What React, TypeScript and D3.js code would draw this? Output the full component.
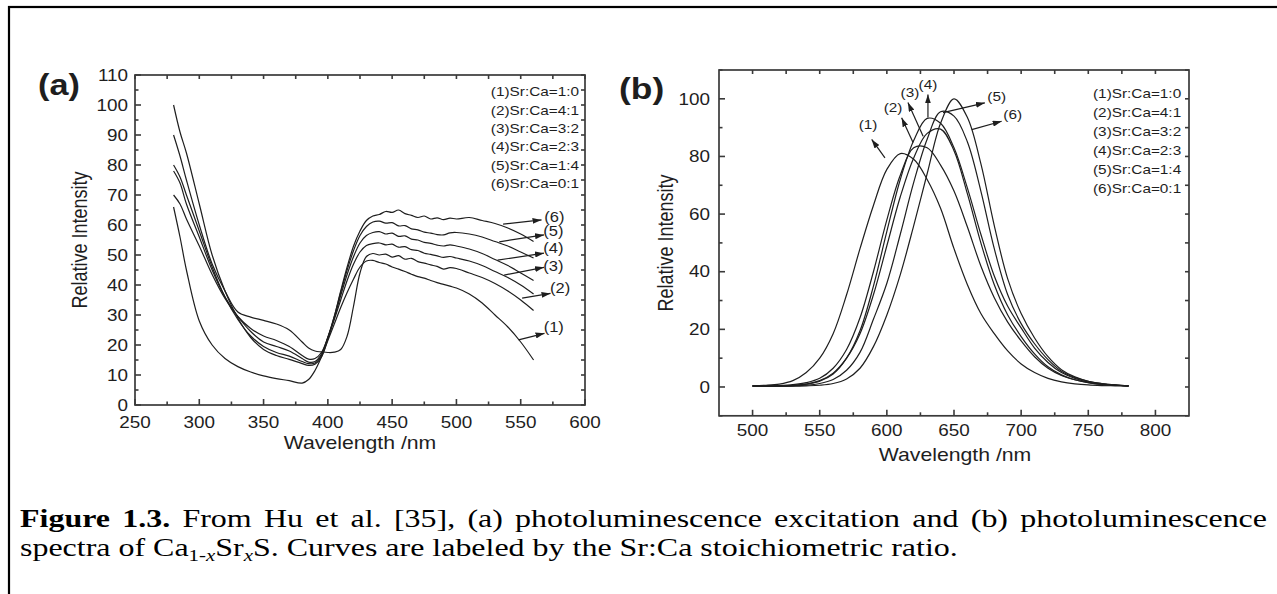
import React, { useLayoutEffect, useRef } from "react";
import * as d3 from "d3";

// ---------- Panel (a): photoluminescence excitation ----------
const waveA = [280, 285, 290, 300, 310, 320, 330, 340, 350, 360, 370, 380, 385, 390, 395, 400, 405, 410, 415, 420, 425, 430, 435, 440, 445, 450, 455, 460, 465, 470, 475, 480, 485, 490, 495, 500, 510, 520, 530, 540, 550, 560];
const excit1 = [66, 56, 45, 28, 20, 15.5, 12.8, 11, 9.7, 8.8, 8.1, 7.3, 8.5, 11.5, 16, 21.5, 27, 32.5, 37.5, 42, 46, 48, 48.2, 47.5, 47, 46, 45.3, 44.5, 43.6, 42.8, 42.3, 41.5, 40.8, 40.2, 39.6, 39, 37, 34, 30, 26, 21, 15];
const excit2 = [90, 83, 75, 60, 47, 38, 31, 29.3, 28.2, 27, 25, 21, 19, 18, 17.7, 17.5, 17.6, 18.5, 23, 33, 44, 49.5, 50.5, 50, 50.3, 49.3, 49.8, 48.6, 48.9, 47.8, 47.3, 46.7, 46.2, 45.3, 45.8, 45.5, 44, 42.5, 40.5, 38, 35, 31.5];
const excit3 = [70, 67, 62, 53, 43.5, 35.5, 29.5, 25.5, 23, 21.5, 19.5, 16.5, 15.3, 15.5, 17.5, 22.5, 28.5, 35, 41.5, 47, 51, 53.2, 53.8, 54, 53.4, 53.6, 52.6, 52.8, 51.8, 51.5, 50.6, 50.2, 49.7, 49.2, 49.5, 49, 48, 46.5, 44.5, 42.5, 40, 37];
const excit4 = [78, 74, 67, 56, 45, 36, 29.5, 24.5, 21, 19.5, 18, 15.5, 14.3, 14.5, 17, 22.5, 29, 36.5, 43.5, 49.5, 54, 56.5, 57.5, 57.8, 57, 57.3, 56.2, 56.4, 55.3, 55, 54.2, 53.9, 53.3, 53, 53.4, 53, 52, 50.5, 48.5, 46.5, 44, 41.5];
const excit5 = [80, 76, 70, 58, 46, 36, 28.5, 23, 19.5, 17.5, 16.3, 14.5, 13.8, 14, 16.5, 22.5, 29.5, 37.5, 45, 51.5, 56.5, 59.5, 61, 61.3, 60.6, 60.8, 59.7, 59.8, 58.7, 58.4, 57.6, 57.3, 56.8, 56.7, 57.4, 57.5, 57, 56, 54.5, 53, 51, 49];
const excit6 = [100, 91, 84, 67, 50, 38, 29, 22.5, 18.5, 16.5, 15.2, 13.8, 13.2, 13.6, 16, 22, 29.5, 38, 46, 53, 58, 61.5, 63, 63.5, 64.5, 64.2, 65, 63.8, 63.2, 62.5, 63, 62, 62.4, 61.8, 62.3, 62, 62.5, 61.5, 60.5, 59, 57, 54.5];
const excitSeries = [excit1, excit2, excit3, excit4, excit5, excit6];

// arrow annotations for (a): [wavelength, intensity]
const annotA = [
  { label: "(6)", tail: [536.3, 60.3], head: [566.2, 61.7], text: [576.2, 62.8] },
  { label: "(5)", tail: [533.3, 54.4], head: [568.1, 56.7], text: [575.4, 58.0] },
  { label: "(4)", tail: [532.0, 48.3], head: [568.1, 50.6], text: [575.4, 52.2] },
  { label: "(3)", tail: [537.1, 43.3], head: [568.1, 45.9], text: [575.4, 46.4] },
  { label: "(2)", tail: [551.1, 35.6], head: [573.2, 37.2], text: [580.6, 38.9] },
  { label: "(1)", tail: [548.3, 21.7], head: [568.5, 23.9], text: [575.7, 26.1] },
];

// ---------- Panel (b): photoluminescence ----------
const waveB = [500, 510, 520, 530, 540, 550, 560, 570, 580, 590, 600, 610, 620, 630, 640, 650, 660, 670, 680, 690, 700, 710, 720, 730, 740, 750, 760, 770, 780];
const emit1 = [0.5, 0.6, 1.0, 2.2, 5, 10, 18.5, 32, 48, 63, 75.5, 81, 79, 72, 62, 48, 35.5, 25.5, 18.5, 12.5, 8, 5, 3, 1.8, 1.1, 0.7, 0.5, 0.4, 0.3];
const emit2 = [0.4, 0.4, 0.5, 0.8, 1.5, 3, 6.5, 13, 24, 40, 58, 73.5, 83, 83, 77, 68, 55.5, 42, 31, 22.5, 16, 10.5, 6.5, 4, 2.5, 1.5, 0.9, 0.6, 0.4];
const emit3 = [0.3, 0.3, 0.4, 0.6, 1, 2.2, 4.8, 10, 18.5, 32, 49, 66, 79.5, 88, 89.5, 82, 67, 50, 35.5, 25, 17.5, 11.5, 7, 4.2, 2.5, 1.5, 0.9, 0.6, 0.4];
const emit4 = [0.3, 0.3, 0.4, 0.5, 1, 2, 4.5, 10, 19.5, 35, 54, 72, 85.5, 93.2, 91.5, 83, 69, 53, 38.5, 28, 20.5, 13.5, 8.5, 5, 3, 1.7, 1, 0.6, 0.4];
const emit5 = [0.3, 0.3, 0.3, 0.4, 0.6, 1.2, 2.6, 5.8, 12, 23.5, 36, 53, 71, 86, 95.5, 94, 85, 68, 48, 32, 22, 15, 9.5, 5.5, 3.3, 2, 1.2, 0.7, 0.4];
const emit6 = [0.3, 0.3, 0.3, 0.3, 0.4, 0.6, 1.2, 2.8, 6.5, 14, 25, 39, 56, 74, 91.5, 100, 93.5, 77.5, 56, 37.5, 25.5, 17, 10.5, 6, 3.5, 2, 1.2, 0.7, 0.4];
const emitSeries = [emit1, emit2, emit3, emit4, emit5, emit6];

const annotB = [
  { label: "(1)", tail: [598.6, 79.5], head: [588.7, 85.9], text: [586.0, 91.1] },
  { label: "(2)", tail: [619.5, 84.8], head: [611.0, 93.4], text: [604.6, 97.0] },
  { label: "(3)", tail: [627.0, 87.0], head: [615.7, 98.7], text: [617.2, 102.2] },
  { label: "(4)", tail: [630.6, 93.5], head: [630.6, 101.5], text: [630.6, 105.0] },
  { label: "(5)", tail: [641.8, 95.2], head: [673.0, 98.6], text: [681.8, 100.9] },
  { label: "(6)", tail: [663.2, 89.3], head: [685.5, 92.2], text: [693.7, 94.5] },
];

const legendLabels = ["(1)Sr:Ca=1:0", "(2)Sr:Ca=4:1", "(3)Sr:Ca=3:2", "(4)Sr:Ca=2:3", "(5)Sr:Ca=1:4", "(6)Sr:Ca=0:1"];

// ticks
const xMajorA = [250, 300, 350, 400, 450, 500, 550, 600];
const xMinorA = [275, 325, 375, 425, 475, 525, 575];
const yMajorA = [0, 10, 20, 30, 40, 50, 60, 70, 80, 90, 100, 110];
const yMinorA = [5, 15, 25, 35, 45, 55, 65, 75, 85, 95, 105];
const xMajorB = [500, 550, 600, 650, 700, 750, 800];
const xMinorB = [525, 575, 625, 675, 725, 775];
const yMajorB = [0, 20, 40, 60, 80, 100];
const yMinorB = [-10, 10, 30, 50, 70, 90, 110];

const FONT = "'Liberation Sans', Arial, Helvetica, sans-serif";
const SERIF = "'Liberation Serif', 'Times New Roman', serif";
const SX = 1.18;
const CAP_SX = 1.23;
const INK = "#1e1e1e";
const AXIS = "#3a3a3a";

function STxt(props: any) {
  const { x, y, size, anchor = "start", weight = "normal", rotate = false, children, dy } = props;
  const t = `translate(${x},${y}) scale(${SX},1)` + (rotate ? " rotate(-90)" : "");
  return (
    <text transform={t} fontSize={size} textAnchor={anchor} fontWeight={weight} fontFamily={FONT} fill={INK} dy={dy}>
      {children}
    </text>
  );
}

function Axes(props: any) {
  const { x, y, xMajor, xMinor, yMajor, yMinor, xLabelY, yLabelX } = props;
  const [x0, x1] = x.range();
  const [y0, y1] = y.range();
  const M = 6, m = 3.5, T = 4;
  const segs: any[] = [];
  xMajor.forEach((v: number) => {
    segs.push([x(v), y0, x(v), y0 - M]);
    segs.push([x(v), y1, x(v), y1 + T]);
  });
  xMinor.forEach((v: number) => {
    segs.push([x(v), y0, x(v), y0 - m]);
    segs.push([x(v), y1, x(v), y1 + T]);
  });
  yMajor.forEach((v: number) => {
    segs.push([x0, y(v), x0 + M, y(v)]);
    segs.push([x1, y(v), x1 - T, y(v)]);
  });
  yMinor.forEach((v: number) => {
    segs.push([x0, y(v), x0 + m, y(v)]);
    segs.push([x1, y(v), x1 - T, y(v)]);
  });
  return (
    <g>
      <rect x={x0} y={y1} width={x1 - x0} height={y0 - y1} fill="none" stroke={AXIS} strokeWidth={1.7} />
      {segs.map((s, i) => (
        <line key={i} x1={s[0]} y1={s[1]} x2={s[2]} y2={s[3]} stroke={AXIS} strokeWidth={1.6} />
      ))}
      {xMajor.map((v: number) => (
        <STxt key={"xl" + v} x={x(v)} y={xLabelY} size={16} anchor="middle">{v}</STxt>
      ))}
      {yMajor.map((v: number) => (
        <STxt key={"yl" + v} x={yLabelX} y={y(v)} size={16} anchor="end" dy="0.36em">{v}</STxt>
      ))}
    </g>
  );
}

export default function App() {
  const capRef = useRef<SVGTextElement>(null);
  useLayoutEffect(() => {
    const el = capRef.current;
    if (!el) return;
    el.setAttribute("word-spacing", "0");
    const natural = el.getComputedTextLength();
    const txt = el.textContent || "";
    const spaces = (txt.match(/ /g) || []).length;
    const target = 1247 / CAP_SX;
    const extra = (target - natural) / Math.max(1, spaces);
    el.setAttribute("word-spacing", String(Math.max(0, extra)));
  }, []);

  const xA = d3.scaleLinear().domain([250, 600]).range([135, 585]);
  const yA = d3.scaleLinear().domain([0, 110]).range([405, 75]);
  const xB = d3.scaleLinear().domain([475, 825]).range([719, 1189]);
  const yB = d3.scaleLinear().domain([-10, 110]).range([415.8, 70]);

  const lineA = d3
    .line<number>()
    .x((_, i) => xA(waveA[i]))
    .y((d) => yA(d))
    .curve(d3.curveCatmullRom.alpha(0.5));
  const lineB = d3
    .line<number>()
    .x((_, i) => xB(waveB[i]))
    .y((d) => yB(d))
    .curve(d3.curveCatmullRom.alpha(0.5));

  return (
    <svg
      width={1277}
      height={594}
      style={{ position: "absolute", left: 0, top: 0, background: "#fff" }}
    >
      <defs>
        <marker id="ah" viewBox="0 0 10 10" refX={10} refY={5} markerWidth={9} markerHeight={6} markerUnits="userSpaceOnUse" orient="auto" preserveAspectRatio="none">
          <path d="M0,0L10,5L0,10z" fill={INK} />
        </marker>
      </defs>
      <rect x={0} y={0} width={1277} height={594} fill="#fff" />
      <rect x={9} y={7} width={1400} height={700} fill="none" stroke="#000" strokeWidth={2.2} />

      {/* Panel (a) */}
      <STxt x={38} y={95} size={29} weight="bold">(a)</STxt>
      <Axes x={xA} y={yA} xMajor={xMajorA} xMinor={xMinorA} yMajor={yMajorA} yMinor={yMinorA} xLabelY={428} yLabelX={128} />
      <STxt x={80} y={240} size={18} anchor="middle" rotate dy="0.35em">Relative Intensity</STxt>
      <STxt x={360} y={449} size={18} anchor="middle">Wavelength /nm</STxt>
      {excitSeries.map((s, i) => (
        <path key={"a" + i} d={lineA(s) || ""} fill="none" stroke={INK} strokeWidth={1.2} />
      ))}
      {legendLabels.map((t, i) => (
        <STxt key={"la" + i} x={579} y={96.3 + i * 18.34} size={13} anchor="end">{t}</STxt>
      ))}
      {annotA.map((a) => (
        <g key={"aa" + a.label}>
          <line x1={xA(a.tail[0])} y1={yA(a.tail[1])} x2={xA(a.head[0])} y2={yA(a.head[1])} stroke={INK} strokeWidth={1.2} markerEnd="url(#ah)" />
          <STxt x={xA(a.text[0])} y={yA(a.text[1])} size={14} anchor="middle" dy="0.36em">{a.label}</STxt>
        </g>
      ))}

      {/* Panel (b) */}
      <STxt x={619} y={99} size={30} weight="bold">(b)</STxt>
      <Axes x={xB} y={yB} xMajor={xMajorB} xMinor={xMinorB} yMajor={yMajorB} yMinor={yMinorB} xLabelY={436} yLabelX={710} />
      <STxt x={666} y={243} size={18} anchor="middle" rotate dy="0.35em">Relative Intensity</STxt>
      <STxt x={955} y={461} size={18} anchor="middle">Wavelength /nm</STxt>
      {emitSeries.map((s, i) => (
        <path key={"b" + i} d={lineB(s) || ""} fill="none" stroke={INK} strokeWidth={1.2} />
      ))}
      {legendLabels.map((t, i) => (
        <STxt key={"lb" + i} x={1093} y={98 + i * 19} size={13} anchor="start">{t}</STxt>
      ))}
      {annotB.map((a) => (
        <g key={"bb" + a.label}>
          <line x1={xB(a.tail[0])} y1={yB(a.tail[1])} x2={xB(a.head[0])} y2={yB(a.head[1])} stroke={INK} strokeWidth={1.2} markerEnd="url(#ah)" />
          <STxt x={xB(a.text[0])} y={yB(a.text[1])} size={13} anchor="middle" dy="0.36em">{a.label}</STxt>
        </g>
      ))}

      {/* Caption */}
      <g transform={`translate(20,527) scale(${CAP_SX},1)`}>
        <text ref={capRef} x={0} y={0} fontFamily={SERIF} fontSize={26} fill="#000">
          <tspan fontWeight="bold">Figure 1.3.</tspan> From Hu et al. [35], (a) photoluminescence excitation and (b) photoluminescence
        </text>
      </g>
      <g transform={`translate(20,556) scale(${CAP_SX},1)`}>
        <text x={0} y={0} fontFamily={SERIF} fontSize={26} fill="#000">
          spectra of Ca<tspan dy={5} fontSize={17}>1-</tspan><tspan fontSize={17} fontStyle="italic">x</tspan><tspan dy={-5}>Sr</tspan><tspan dy={5} fontSize={17} fontStyle="italic">x</tspan><tspan dy={-5}>S. Curves are labeled by the Sr:Ca stoichiometric ratio.</tspan>
        </text>
      </g>
    </svg>
  );
}
